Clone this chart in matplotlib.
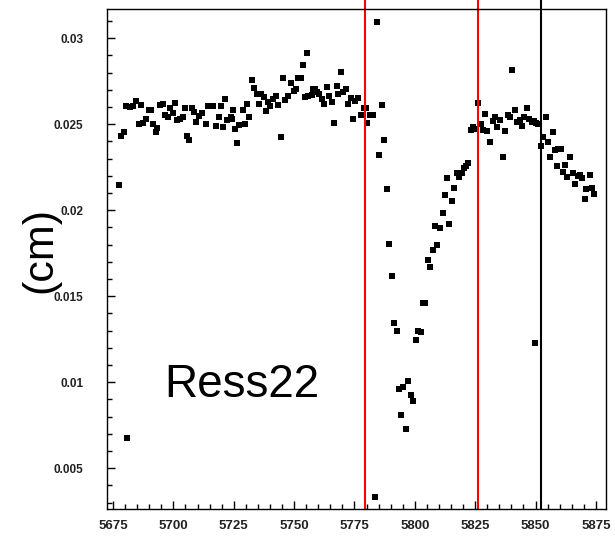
import matplotlib
matplotlib.use('Agg')
import matplotlib.pyplot as plt
from matplotlib.ticker import MultipleLocator

plt.rcParams['font.family'] = ['Liberation Sans', 'DejaVu Sans']

# measured points (position, resolution in cm)
pos = [5677.6, 5678.2, 5679.6, 5680.8, 5680.4, 5682.0, 5683.2, 5684.5, 5686.5, 5685.9,
       5687.5, 5688.7, 5690.0, 5690.6, 5691.7, 5693.3, 5692.8, 5694.5, 5695.6, 5696.5,
       5697.9, 5698.6, 5699.7, 5700.7, 5701.6, 5702.7, 5703.9, 5704.8, 5705.5, 5706.6,
       5707.7, 5708.5, 5709.4, 5710.7, 5711.9, 5713.5, 5714.5, 5716.3, 5717.6, 5718.8,
       5719.6, 5721.5, 5720.7, 5722.3, 5723.7, 5724.6, 5724.2, 5725.5, 5726.5, 5727.3,
       5728.7, 5729.7, 5730.6, 5731.4, 5732.4, 5733.4, 5734.5, 5735.6, 5736.2, 5737.5,
       5738.4, 5739.3, 5740.0, 5741.1, 5742.5, 5743.4, 5744.4, 5745.5, 5746.2, 5747.6,
       5748.6, 5749.9, 5750.8, 5751.7, 5752.7, 5753.6, 5754.5, 5755.5, 5755.9, 5757.3,
       5757.7, 5758.6, 5759.6, 5760.4, 5761.4, 5762.4, 5763.5, 5764.6, 5765.6, 5766.5,
       5767.6, 5768.3, 5769.3, 5770.4, 5771.5, 5772.4, 5773.4, 5774.5, 5775.2, 5776.6,
       5777.6, 5778.9, 5779.8, 5780.3, 5781.4, 5782.5, 5783.5, 5784.4, 5786.4, 5785.3,
       5787.2, 5788.3, 5789.4, 5790.4, 5791.4, 5792.5, 5793.6, 5794.4, 5795.2, 5796.3,
       5797.3, 5798.3, 5799.1, 5800.3, 5801.4, 5802.4, 5803.2, 5804.3, 5805.4, 5806.4,
       5807.4, 5808.3, 5809.3, 5810.4, 5811.5, 5812.5, 5813.4, 5814.3, 5815.2, 5816.3,
       5817.3, 5818.4, 5819.4, 5820.3, 5821.2, 5822.1, 5823.2, 5824.2, 5825.3, 5826.3,
       5827.3, 5828.1, 5829.2, 5830.0, 5831.1, 5832.2, 5833.2, 5834.1, 5835.2, 5836.4,
       5837.3, 5838.6, 5839.4, 5840.3, 5841.3, 5842.4, 5843.5, 5844.2, 5845.2, 5846.3,
       5847.4, 5848.4, 5849.3, 5849.7, 5850.4, 5851.1, 5852.2, 5853.2, 5854.3, 5855.2,
       5856.2, 5857.3, 5858.2, 5859.3, 5860.4, 5859.1, 5861.2, 5862.3, 5863.1, 5864.2,
       5865.4, 5866.4, 5867.4, 5868.4, 5869.3, 5870.3, 5871.1, 5872.5, 5873.2, 5874.2]
res = [0.02145, 0.0243, 0.02455, 0.00675, 0.02605, 0.02599, 0.02605, 0.02635, 0.0261, 0.025,
       0.02508, 0.02531, 0.02585, 0.02585, 0.025, 0.02477, 0.02454, 0.0261, 0.0262, 0.02552,
       0.02542, 0.02597, 0.02566, 0.02624, 0.02527, 0.02533, 0.02542, 0.02597, 0.0243, 0.02411,
       0.02597, 0.02571, 0.02513, 0.02546, 0.02566, 0.02504, 0.02605, 0.02605, 0.02488, 0.02539,
       0.02605, 0.02647, 0.02481, 0.02527, 0.02542, 0.02581, 0.02533, 0.02475, 0.02391, 0.02494,
       0.02581, 0.02504, 0.02616, 0.02539, 0.02756, 0.02713, 0.02678, 0.02616, 0.02674, 0.02659,
       0.02577, 0.0263, 0.02605, 0.02644, 0.02663, 0.0261, 0.02423, 0.02766, 0.02639, 0.02663,
       0.0274, 0.02693, 0.02702, 0.02766, 0.02771, 0.02843, 0.02659, 0.02914, 0.02663, 0.02668,
       0.02702, 0.02702, 0.02688, 0.02674, 0.02649, 0.02616, 0.02717, 0.02663, 0.0263, 0.02508,
       0.02721, 0.02674, 0.02804, 0.02688, 0.02702, 0.02616, 0.02655, 0.02533, 0.02635, 0.02655,
       0.02552, 0.02597, 0.02597, 0.02508, 0.02552, 0.02552, 0.00331, 0.03094, 0.02612, 0.0232,
       0.02411, 0.02121, 0.01801, 0.01617, 0.01346, 0.01296, 0.00959, 0.00808, 0.0097, 0.00728,
       0.01009, 0.00924, 0.00892, 0.01245, 0.01296, 0.01292, 0.01462, 0.01462, 0.0171, 0.01671,
       0.01768, 0.01909, 0.01797, 0.01894, 0.01981, 0.02089, 0.0219, 0.01919, 0.02054, 0.02128,
       0.02219, 0.02194, 0.02214, 0.02243, 0.02256, 0.02275, 0.02465, 0.02484, 0.02475, 0.02624,
       0.02504, 0.02465, 0.02562, 0.02459, 0.02397, 0.02519, 0.02539, 0.02484, 0.02527, 0.0231,
       0.02461, 0.02551, 0.02539, 0.02814, 0.02581, 0.02513, 0.02527, 0.02488, 0.02539, 0.02597,
       0.02533, 0.02513, 0.02519, 0.01227, 0.02508, 0.025, 0.02372, 0.02423, 0.02539, 0.02394,
       0.0231, 0.02454, 0.02349, 0.02353, 0.02355, 0.02258, 0.02223, 0.02264, 0.02194, 0.02307,
       0.02217, 0.02155, 0.022, 0.02204, 0.02188, 0.02064, 0.02124, 0.02204, 0.0213, 0.02092]

red_lines = [5779.5, 5826.0]
black_line = 5852.2
xticks = [5675, 5700, 5725, 5750, 5775, 5800, 5825, 5850, 5875]
yticks = [0.005, 0.01, 0.015, 0.02, 0.025, 0.03]


def main():
    fig = plt.figure(figsize=(6.15, 5.36), dpi=100)
    ax = fig.add_axes([0.174, 0.050, 0.811, 0.933])

    ax.plot(pos, res, 's', color='black', markersize=4.0, markeredgewidth=0)

    for xv in red_lines:
        ax.axvline(xv, ymin=0, ymax=1.02, color='#ff0000', lw=1.5, clip_on=False)
    ax.axvline(black_line, ymin=0, ymax=1.02, color='black', lw=1.5, clip_on=False)

    ax.set_xlim(5672.5, 5879.1)
    ax.set_ylim(0.00262, 0.03169)
    ax.set_xticks(xticks)
    ax.set_yticks(yticks)
    ax.set_yticklabels(['0.005', '0.01', '0.015', '0.02', '0.025', '0.03'])
    ax.xaxis.set_minor_locator(MultipleLocator(5))
    ax.yaxis.set_minor_locator(MultipleLocator(0.001))

    ax.tick_params(which='both', direction='in', top=False, right=False, width=1)
    ax.tick_params(which='major', length=6)
    ax.tick_params(which='minor', length=3.3)
    ax.tick_params(axis='y', pad=17, labelsize=8.5)
    ax.tick_params(axis='x', pad=8, labelsize=9.5)
    for lab in ax.get_xticklabels() + ax.get_yticklabels():
        lab.set_fontweight('bold')
        lab.set_color('#222222')

    for sp in ax.spines.values():
        sp.set_linewidth(1.0)

    ax.text(0.27, 0.248, 'Ress22', transform=ax.transAxes, fontsize=33,
            ha='center', va='center')
    fig.text(40 / 615, 1 - 250 / 536, '(cm)', rotation=90, fontsize=31,
             ha='center', va='center')

    fig.savefig('out.png', dpi=100)


if __name__ == '__main__':
    main()
